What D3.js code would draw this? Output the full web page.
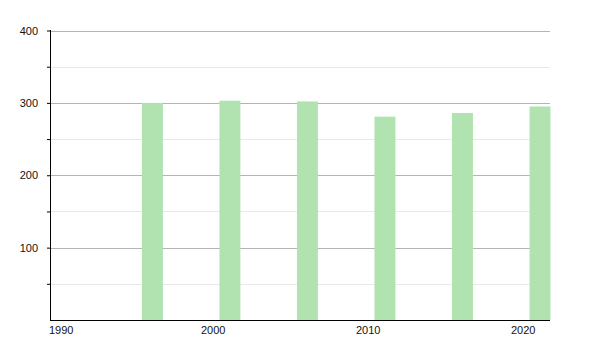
<!DOCTYPE html>
<html>
<head>
<meta charset="utf-8">
<script src="https://cdn.jsdelivr.net/npm/d3@7"></script>
<style>
  body { margin: 0; background: #fff; }
  text { font-family: "Liberation Sans", Arial, sans-serif; font-size: 11px; fill: #111; }
</style>
</head>
<body>
<svg id="chart" width="600" height="350"></svg>
<script>
// census years and values
var years = [1996, 2001, 2006, 2011, 2016, 2021];
var values = [300, 303, 302, 281, 286, 295];
var yearTicks = [1990, 2000, 2010, 2020];
var majorTicks = [100, 200, 300, 400];
var minorTicks = [50, 150, 250, 350];

var margin = {top: 30, right: 50, bottom: 30, left: 50},
    width = 600 - margin.left - margin.right,
    height = 350 - margin.top - margin.bottom;

var svg = d3.select("#chart");
var g = svg.append("g")
    .attr("transform", "translate(" + margin.left + "," + margin.top + ")");

var xScale = d3.scaleLinear()
    .domain([1990.2, 2022.45])
    .range([0, width]);

var yScale = d3.scaleLinear()
    .domain([0, 400])
    .range([height, 0.5]);

// grid lines
g.selectAll(".minor")
    .data(minorTicks)
    .enter().append("line")
    .attr("x1", 0).attr("x2", width)
    .attr("y1", function(d) { return Math.round(yScale(d)) + 0.5; })
    .attr("y2", function(d) { return Math.round(yScale(d)) + 0.5; })
    .attr("stroke", "#e8e8e8");

g.selectAll(".major")
    .data(majorTicks)
    .enter().append("line")
    .attr("x1", 0).attr("x2", width)
    .attr("y1", function(d) { return Math.round(yScale(d)) + 0.5; })
    .attr("y2", function(d) { return Math.round(yScale(d)) + 0.5; })
    .attr("stroke", "#b4b4b4");

// bars
var barW = xScale(1.35) - xScale(0);
g.selectAll(".bar")
    .data(years)
    .enter().append("rect")
    .attr("class", "bar")
    .attr("x", function(d) { return xScale(d + 0.13); })
    .attr("y", function(d, i) { return yScale(values[i]); })
    .attr("width", barW)
    .attr("height", function(d, i) { return height - yScale(values[i]); })
    .attr("fill", "#b1e3b1");

// y axis
var yAxis = d3.axisLeft(yScale)
    .tickValues(majorTicks.concat(minorTicks))
    .tickSize(3)
    .tickFormat(function(d) { return d % 100 === 0 ? d : ""; });

var yg = g.append("g").call(yAxis)
    .attr("font-family", null).attr("font-size", null);
yg.select(".domain").attr("stroke", "#000").attr("d", "M0.5,0V" + height);
yg.selectAll(".tick line").attr("stroke", "#000");
yg.selectAll("text").attr("x", -12).attr("fill", "#111");

// x axis
var xg = g.append("g")
    .attr("transform", "translate(0," + height + ")");
xg.append("line")
    .attr("x1", 0).attr("x2", width)
    .attr("y1", 0.5).attr("y2", 0.5)
    .attr("stroke", "#000");
xg.selectAll("text")
    .data(yearTicks)
    .enter().append("text")
    .attr("x", function(d) { return Math.max(xScale(d), 0) - 1; })
    .attr("y", 14)
    .attr("text-anchor", "start")
    .attr("fill", "#111")
    .text(function(d) { return d; });
</script>
</body>
</html>
